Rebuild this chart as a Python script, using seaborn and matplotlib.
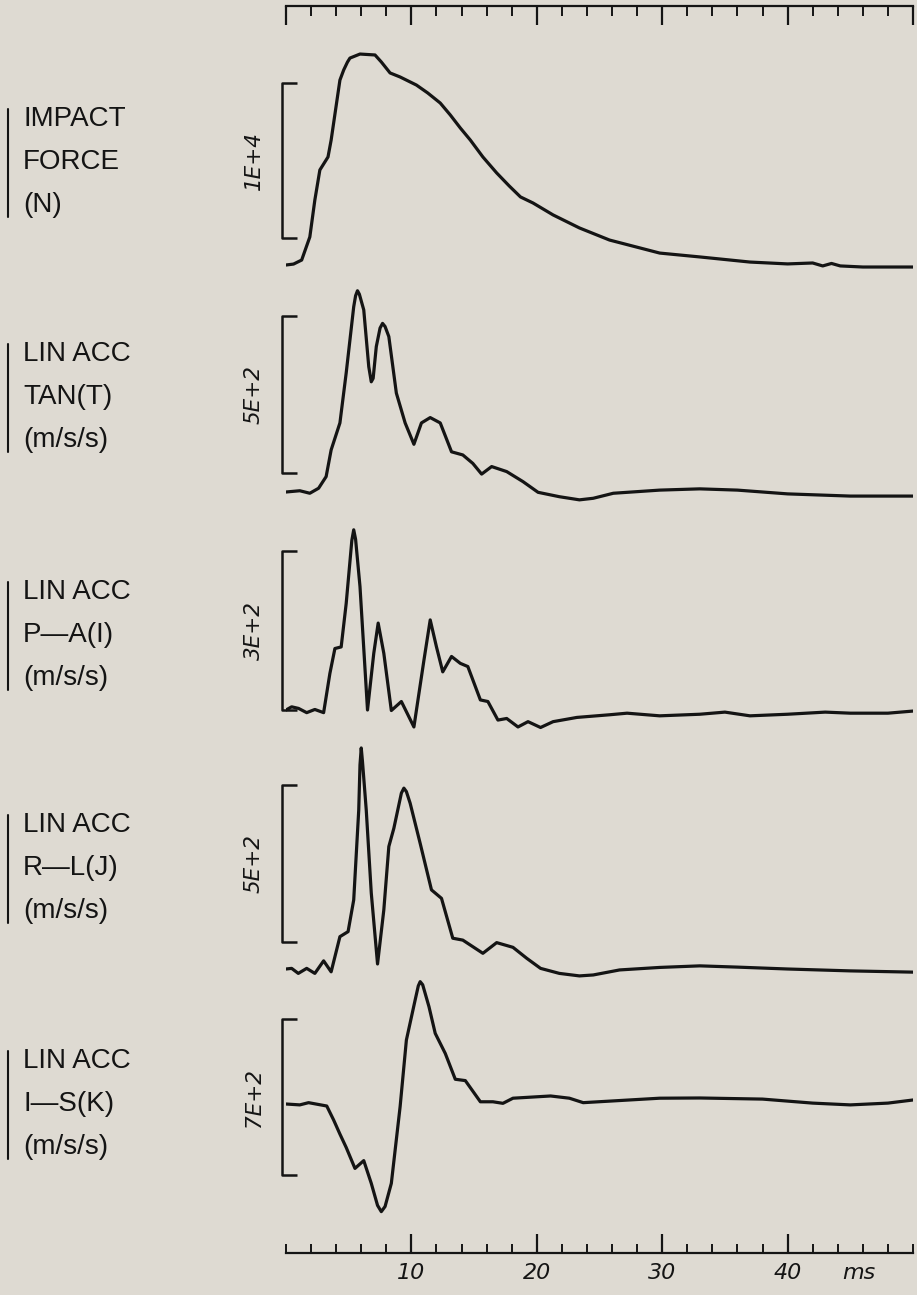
import numpy as np
import pandas as pd
import seaborn as sns
import matplotlib.pyplot as plt
from matplotlib.lines import Line2D

# ---- data (time in ms, value in channel units) ----
t_force = [0, 0.6, 1.25, 1.9, 2.3, 2.7, 3.35, 3.6, 4.3, 4.6, 4.9, 5.1, 5.5, 5.9, 7.1, 7.6,
           8.3, 9.1, 10.4, 11.3, 12.3, 13.1, 13.9, 14.7, 15.7, 16.8, 17.8, 18.7, 19.7, 21.3,
           23.4, 25.8, 29.8, 33, 37, 40, 42, 42.8, 43.5, 44.2, 46, 50]
force = [0, 60, 320, 1810, 4190, 6130, 6970, 8060, 11930, 12580, 13090, 13350, 13480,
         13610, 13550, 13100, 12390, 12130, 11610, 11100, 10450, 9680, 8840, 8060, 6970,
         5940, 5100, 4390, 4000, 3230, 2390, 1610, 770, 520, 190, 70, 130, -60, 100, -60,
         -130, -130]

t_tan = [0, 1.1, 1.9, 2.6, 3.2, 3.6, 4.3, 4.8, 5.4, 5.55, 5.7, 5.85, 6.2, 6.6, 6.8, 6.95,
         7.2, 7.5, 7.7, 7.9, 8.2, 8.8, 9.5, 10.2, 10.8, 11.5, 12.3, 13.2, 14.1, 14.9, 15.6,
         16.4, 17.6, 18.9, 20.1, 21.8, 23.4, 24.5, 26.1, 29.8, 33, 36, 40, 45, 50]
acc_tan = [0, 4, -4, 12, 49, 134, 220, 379, 590, 625, 641, 630, 580, 399, 351, 362, 463,
           522, 537, 527, 495, 315, 220, 152, 220, 237, 220, 128, 118, 91, 57, 81, 65, 33,
           -1, -15, -25, -20, -4, 6, 10, 6, -6, -13, -13]

t_pa = [0, 0.45, 1.0, 1.65, 2.3, 3.0, 3.5, 3.9, 4.4, 4.8, 5.25, 5.4, 5.55, 5.9, 6.5, 7.0,
        7.35, 7.8, 8.4, 9.2, 10.2, 11.0, 11.5, 12.0, 12.5, 13.2, 13.9, 14.5, 15.5, 16.1,
        16.9, 17.6, 18.5, 19.3, 20.3, 21.3, 23.2, 25.8, 27.2, 29.8, 33, 35, 37, 40, 43, 45,
        48, 50]
acc_pa = [0, 6, 3, -5, 1, -5, 69, 116, 119, 201, 320, 340, 322, 233, 0, 107, 164, 107, -1,
          16, -32, 94, 170, 119, 72, 101, 88, 82, 19, 16, -19, -16, -32, -22, -33, -22, -14,
          -9, -6, -11, -8, -4, -11, -8, -4, -6, -6, -2]

t_rl = [0, 0.45, 0.98, 1.65, 2.3, 3.0, 3.6, 4.3, 4.95, 5.4, 5.8, 5.9, 6.0, 6.1, 6.4, 6.8,
        7.3, 7.8, 8.2, 8.6, 9.2, 9.4, 9.6, 9.9, 10.7, 11.6, 12.4, 13.3, 14.1, 14.9, 15.7,
        16.8, 18.1, 19.2, 20.3, 21.8, 23.4, 24.5, 26.6, 29.8, 33, 36, 40, 45, 50]
acc_rl = [0, 2, -14, 2, -14, 26, -9, 103, 119, 220, 506, 650, 704, 660, 506, 242, 16, 188,
          390, 448, 560, 576, 565, 528, 400, 252, 225, 98, 92, 71, 50, 84, 69, 34, 2, -14,
          -22, -19, -3, 5, 10, 6, 0, -6, -10]

t_is = [0, 1.1, 1.8, 3.25, 3.8, 4.3, 4.8, 5.5, 6.2, 6.8, 7.3, 7.6, 7.9, 8.4, 9.1, 9.6,
        10.3, 10.55, 10.7, 10.9, 11.4, 11.9, 12.7, 13.5, 14.3, 15.5, 16.5, 17.3, 18.1, 21.1,
        22.6, 23.7, 29.8, 33, 38, 42, 45, 48, 50]
acc_is = [0, -4, 6, -9, -72, -135, -195, -289, -254, -356, -455, -483, -460, -356, -12,
          287, 467, 530, 549, 535, 437, 317, 227, 111, 105, 10, 10, 3, 26, 36, 26, 6, 26,
          27, 22, 4, -4, 4, 18]

channel_labels = [["IMPACT", "FORCE", "(N)"],
                  ["LIN ACC", "TAN(T)", "(m/s/s)"],
                  ["LIN ACC", "P\u2014A(I)", "(m/s/s)"],
                  ["LIN ACC", "R\u2014L(J)", "(m/s/s)"],
                  ["LIN ACC", "I\u2014S(K)", "(m/s/s)"]]
scale_labels = ["1E+4", "5E+2", "3E+2", "5E+2", "7E+2"]
scale_spans = [10000, 500, 300, 500, 700]
scale_lows = [1750, 60, 0, 85, -320]

time_ticks = [10, 20, 30, 40]
time_tick_labels = ["10", "20", "30", "40"]

series = [(t_force, force), (t_tan, acc_tan), (t_pa, acc_pa), (t_rl, acc_rl), (t_is, acc_is)]


def main():
    sns.set_theme(style="white")
    plt.rcParams["font.family"] = ["DejaVu Sans"]

    W, H = 917, 1295
    bg = "#dedad2"
    ink = "#141414"
    fig = plt.figure(figsize=(W / 100, H / 100), dpi=100, facecolor=bg)

    # horizontal placement: 0..50 ms spans pixels 286..913
    x0, x1 = 286, 913
    left, width = x0 / W, (x1 - x0) / W

    # layout of each channel in pixels: zero line, bracket height, band
    base_px = [265, 492, 710, 969, 1104]
    bracket_px = [155, 157, 159, 157, 156]
    bands = [(40, 290), (270, 520), (505, 745), (735, 995), (965, 1235)]
    label_mid = [162, 397, 635, 868, 1104]

    for i, (t, v) in enumerate(series):
        top, bot = bands[i]
        ppu = bracket_px[i] / scale_spans[i]
        ax = fig.add_axes([left, 1 - bot / H, width, (bot - top) / H])
        ax.set_facecolor("none")
        df = pd.DataFrame({"t": t, "v": v})
        sns.lineplot(data=df, x="t", y="v", ax=ax, color=ink, lw=2.3,
                     estimator=None, sort=False, solid_joinstyle="round",
                     solid_capstyle="round")
        ax.set_xlim(0, 50)
        ax.set_ylim((base_px[i] - bot) / ppu, (base_px[i] - top) / ppu)
        ax.axis("off")

        # scale bracket
        lo = scale_lows[i]
        hi = lo + scale_spans[i]
        ax.plot([0.9, -0.35, -0.35, 0.9], [hi, hi, lo, lo], color=ink, lw=1.8,
                clip_on=False, solid_capstyle="butt")
        ax.text(-2.55, (lo + hi) / 2, scale_labels[i], rotation=90, ha="center",
                va="center", fontsize=15.5, style="italic", color=ink)

        # channel label with bar
        for k, line in enumerate(channel_labels[i]):
            y = label_mid[i] + (k - 1) * 43
            fig.text(23 / W, 1 - y / H, line, ha="left", va="center", fontsize=20,
                     family=["Liberation Sans", "DejaVu Sans"], color=ink)
        ytop = label_mid[i] - 43 - 10
        ybot = label_mid[i] + 43 + 12
        fig.add_artist(Line2D([8 / W, 8 / W], [1 - ytop / H, 1 - ybot / H],
                              transform=fig.transFigure, color=ink, lw=1.5))

    minor = [m for m in range(0, 51, 2) if m % 10 != 0]

    # top ruler
    axt = fig.add_axes([left, 1 - 36 / H, width, 30 / H])
    axt.set_facecolor("none")
    axt.set_xlim(0, 50)
    for s in ["left", "right", "bottom"]:
        axt.spines[s].set_visible(False)
    axt.spines["top"].set_linewidth(1.6)
    axt.spines["top"].set_color(ink)
    axt.xaxis.tick_top()
    axt.set_xticks(list(range(0, 51, 10)))
    axt.set_xticks(minor, minor=True)
    axt.tick_params(axis="x", which="both", top=True, bottom=False)
    axt.tick_params(axis="x", which="major", direction="in", length=13.5, width=1.6,
                    color=ink, labeltop=False, labelbottom=False)
    axt.tick_params(axis="x", which="minor", direction="in", length=7, width=1.4,
                    color=ink)
    axt.set_yticks([])

    # bottom ruler
    axb = fig.add_axes([left, 1 - 1253 / H, width, 30 / H])
    axb.set_facecolor("none")
    axb.set_xlim(0, 50)
    for s in ["left", "right", "top"]:
        axb.spines[s].set_visible(False)
    axb.spines["bottom"].set_linewidth(1.6)
    axb.spines["bottom"].set_color(ink)
    axb.set_xticks(time_ticks + [45.7])
    axb.set_xticklabels(time_tick_labels + ["ms"], fontsize=16, style="italic", color=ink)
    axb.set_xticks([0, 50] + minor, minor=True)
    axb.tick_params(axis="x", which="both", bottom=True, top=False)
    axb.tick_params(axis="x", which="major", direction="in", length=13.5, width=1.6,
                    color=ink, pad=7)
    axb.tick_params(axis="x", which="minor", direction="in", length=6.5, width=1.4,
                    color=ink)
    axb.xaxis.get_major_ticks()[-1].tick1line.set_visible(False)
    axb.set_yticks([])

    fig.savefig("out.png", dpi=100, facecolor=bg)


if __name__ == "__main__":
    main()
